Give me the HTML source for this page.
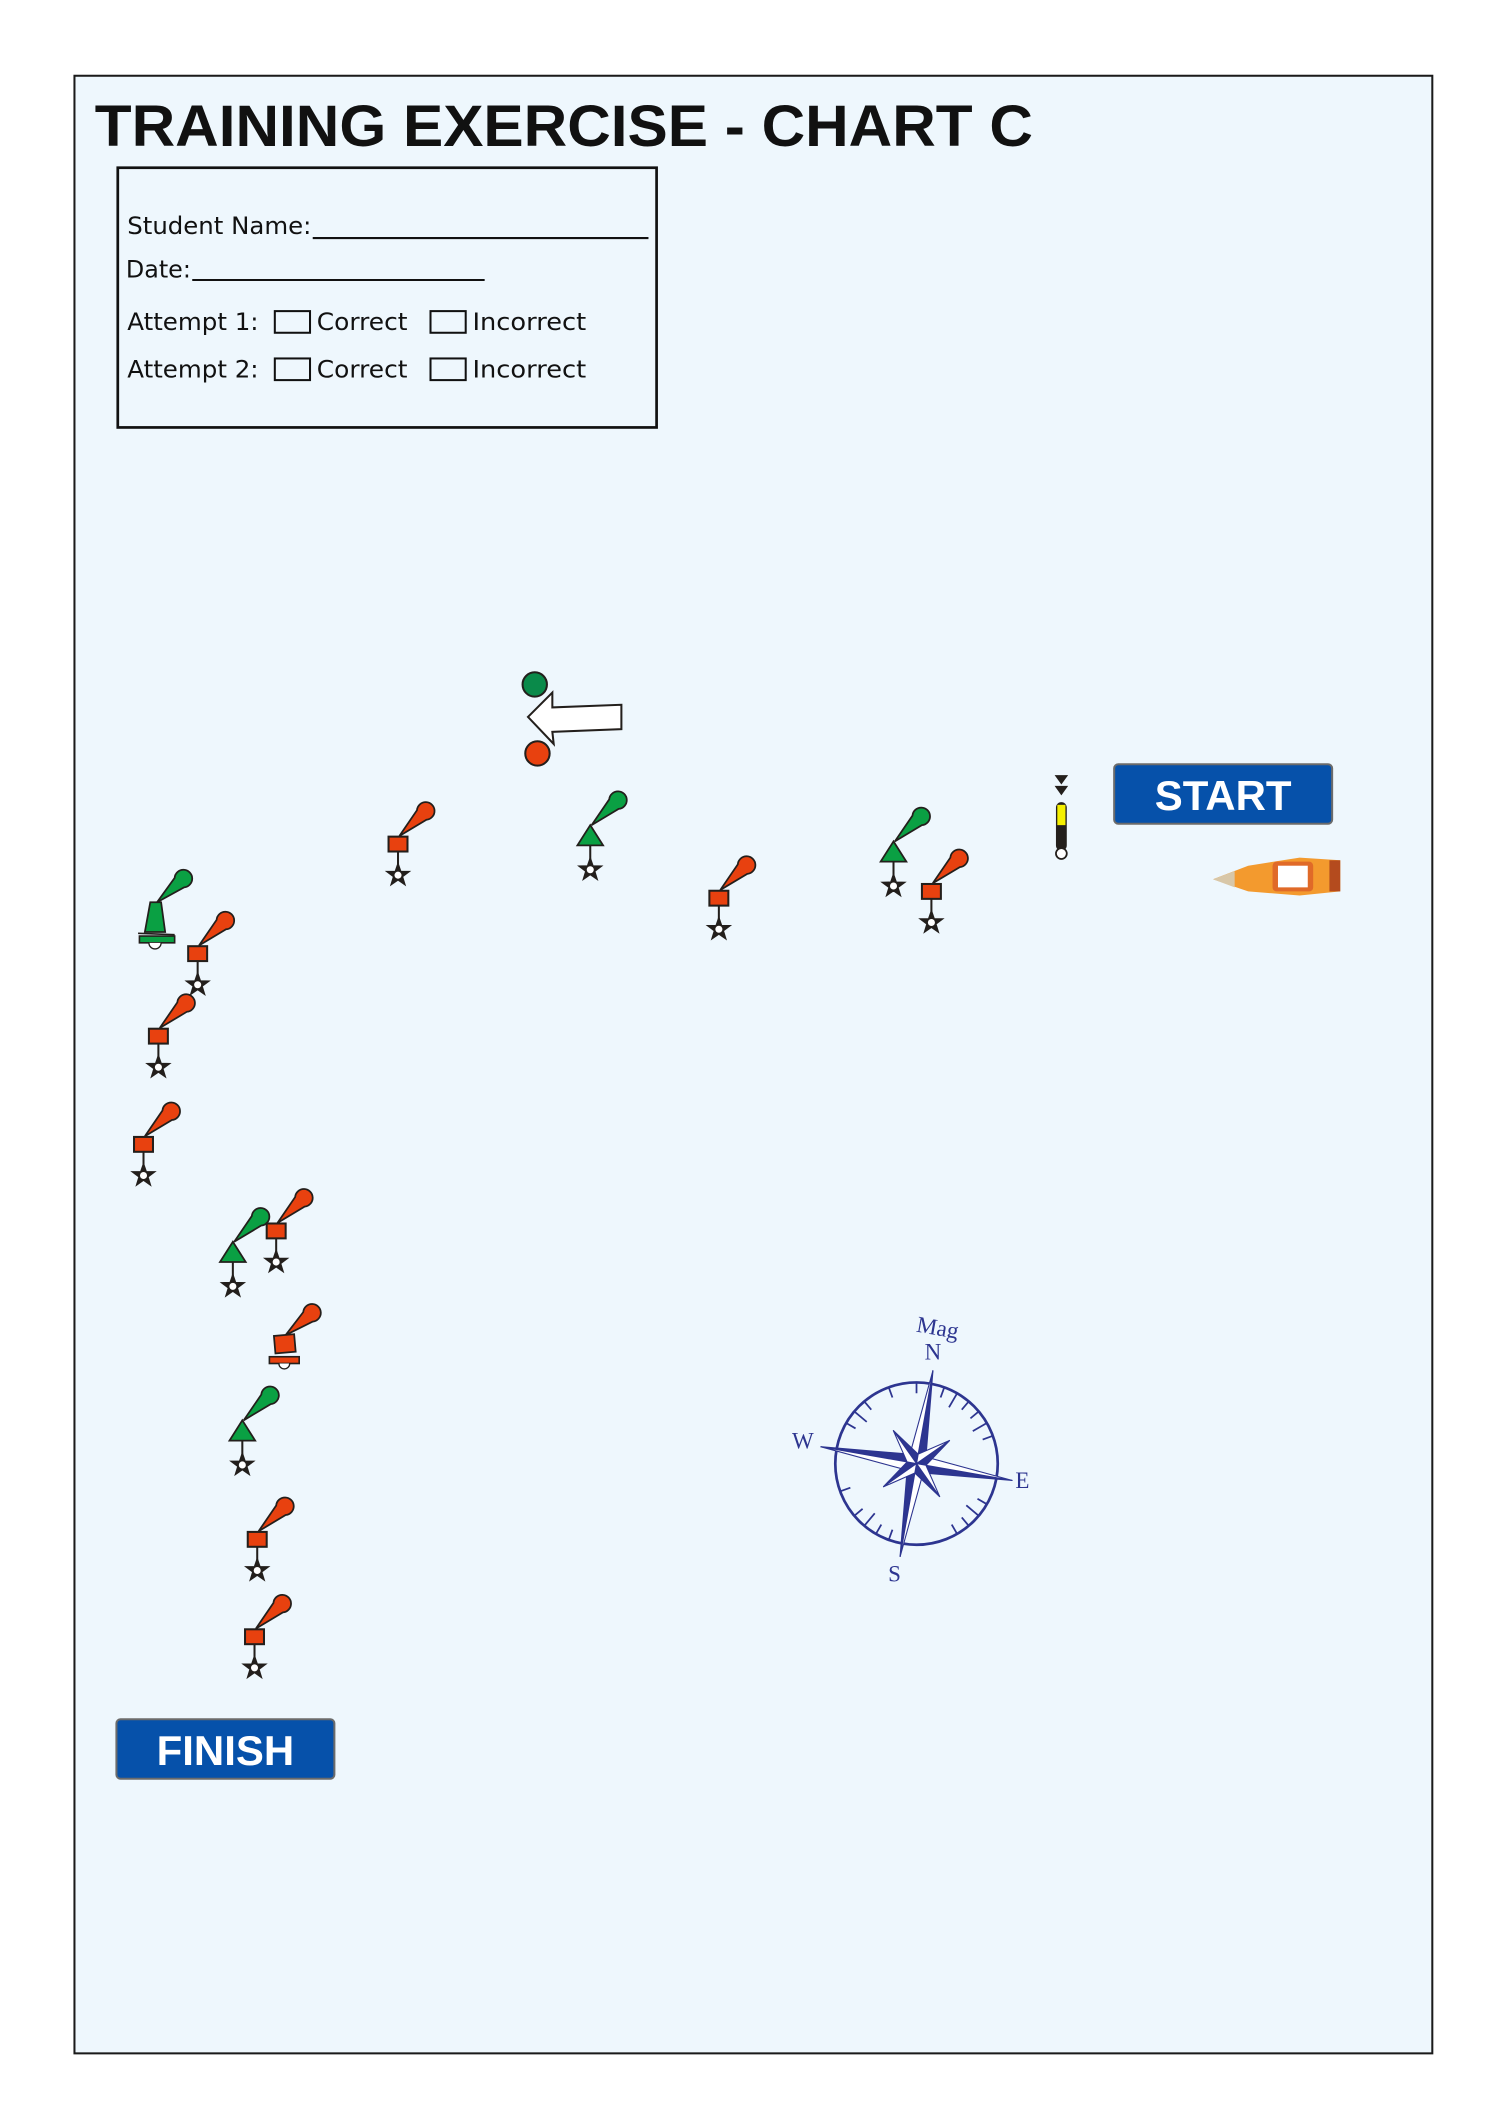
<!DOCTYPE html>
<html><head><meta charset="utf-8"><style>
html,body{margin:0;padding:0;background:#fff;}
svg{display:block}
</style></head><body>
<svg width="1500" height="2121" viewBox="0 0 1108 1568" preserveAspectRatio="none" xmlns="http://www.w3.org/2000/svg">
<defs>
<g id="star"><path d="M0,-9 L2.1,-2.9 8.6,-2.8 3.4,1.1 5.3,7.3 0,3.6 -5.3,7.3 -3.4,1.1 -8.6,-2.8 -2.1,-2.9Z" fill="#231f1c" stroke="#231f1c" stroke-width="0.8"/><circle cx="0" cy="0" r="2.6" fill="#fff"/></g>
<g id="red">
<path d="M1,-6 L14,-25 A6.5,6.5 0 1 1 21,-18 Z" fill="#e8410f" stroke="#231f1c" stroke-width="1.3"/>
<line x1="0" y1="5" x2="0" y2="16" stroke="#231f1c" stroke-width="1.5"/>
<rect x="-7" y="-5.5" width="14" height="11" fill="#e8410f" stroke="#231f1c" stroke-width="1.5"/>
<use href="#star" y="23"/>
</g>
<g id="green">
<path d="M1,-10 L14,-29 A6.5,6.5 0 1 1 21,-22 Z" fill="#0aa043" stroke="#231f1c" stroke-width="1.3"/>
<line x1="0" y1="5" x2="0" y2="16" stroke="#231f1c" stroke-width="1.5"/>
<path d="M0,-10 L9.5,5 L-9.5,5Z" fill="#0aa043" stroke="#231f1c" stroke-width="1.3"/>
<use href="#star" y="23"/>
</g>
</defs>
<rect x="0" y="0" width="1108" height="1568" fill="#fff"/>
<rect x="55" y="56" width="1003" height="1462" fill="#eef7fd" stroke="#1a1a1a" stroke-width="1.5"/>
<text x="70" y="108" font-family="Liberation Sans, sans-serif" font-weight="bold" font-size="43" fill="#111" textLength="693" lengthAdjust="spacingAndGlyphs">TRAINING EXERCISE - CHART C</text>
<rect x="87" y="124" width="398" height="192" fill="none" stroke="#111" stroke-width="2"/>
<g font-family="DejaVu Sans, Liberation Sans, sans-serif" font-size="17.5" fill="#111">
<text x="94" y="173" textLength="136" lengthAdjust="spacingAndGlyphs">Student Name:</text>
<line x1="231" y1="176" x2="479" y2="176" stroke="#111" stroke-width="1.5"/>
<text x="93" y="205" textLength="48" lengthAdjust="spacingAndGlyphs">Date:</text>
<line x1="142" y1="207" x2="358" y2="207" stroke="#111" stroke-width="1.5"/>
<text x="94" y="244" textLength="97" lengthAdjust="spacingAndGlyphs">Attempt 1:</text>
<text x="94" y="279" textLength="97" lengthAdjust="spacingAndGlyphs">Attempt 2:</text>
<text x="234" y="244" textLength="67" lengthAdjust="spacingAndGlyphs">Correct</text>
<text x="234" y="279" textLength="67" lengthAdjust="spacingAndGlyphs">Correct</text>
<text x="349" y="244" textLength="84" lengthAdjust="spacingAndGlyphs">Incorrect</text>
<text x="349" y="279" textLength="84" lengthAdjust="spacingAndGlyphs">Incorrect</text>
</g>
<g fill="none" stroke="#111" stroke-width="1.5">
<rect x="203" y="230" width="26" height="16"/><rect x="318" y="230" width="26" height="16"/>
<rect x="203" y="265" width="26" height="16"/><rect x="318" y="265" width="26" height="16"/>
</g>
<!-- gate -->
<circle cx="395" cy="506" r="9" fill="#0a8a4a" stroke="#231f1c" stroke-width="1.5"/>
<circle cx="397" cy="557" r="9" fill="#e8410f" stroke="#231f1c" stroke-width="1.5"/>
<path d="M390,530 L408,512 L408,523 L459,521 L459,539 L408,541 L409,550 Z" fill="#fff" stroke="#231f1c" stroke-width="1.5"/>
<!-- buoys -->
<use href="#red" x="294" y="624"/>
<use href="#green" x="436" y="620"/>
<use href="#red" x="531" y="664"/>
<use href="#green" x="660" y="632"/>
<use href="#red" x="688" y="659"/>
<use href="#red" x="146" y="705"/>
<use href="#red" x="117" y="766"/>
<use href="#red" x="106" y="846"/>
<use href="#green" x="172" y="928"/>
<use href="#red" x="204" y="910"/>
<use href="#green" x="179" y="1060"/>
<use href="#red" x="190" y="1138"/>
<use href="#red" x="188" y="1210"/>
<!-- green bell buoy -->
<g transform="translate(115,680)">
<path d="M1,-13 L14,-31 A6.5,6.5 0 1 1 21,-24 Z" fill="#0aa043" stroke="#231f1c" stroke-width="1.3"/>
<path d="M-4,-13 L4,-13 L7,9 L-8,9Z" fill="#0aa043" stroke="#231f1c" stroke-width="1.3"/>
<rect x="-12" y="12" width="26" height="5" fill="#0aa043" stroke="#231f1c" stroke-width="1.2"/>
<line x1="-13" y1="10" x2="14" y2="11" stroke="#231f1c" stroke-width="1.2"/>
<path d="M-5,17 A4,4 0 0 0 4,17" fill="#fff" stroke="#231f1c" stroke-width="1"/>
</g>
<!-- red bell buoy -->
<g transform="translate(210,995)">
<path d="M1,-8 L14,-25 A6.5,6.5 0 1 1 21,-18 Z" fill="#e8410f" stroke="#231f1c" stroke-width="1.3"/>
<rect x="-7" y="-8" width="15" height="13" fill="#e8410f" stroke="#231f1c" stroke-width="1.3" transform="rotate(-5)"/>
<rect x="-11" y="8" width="22" height="5" fill="#e8410f" stroke="#231f1c" stroke-width="1.2"/>
<path d="M-4,13 A4,4 0 0 0 4,13" fill="#fff" stroke="#231f1c" stroke-width="1"/>
</g>
<!-- cardinal -->
<g transform="translate(784,0)">
<path d="M-5,573 L5,573 L0,580Z M-5,581 L5,581 L0,588Z" fill="#231f1c"/>
<rect x="-4" y="593" width="8" height="36" rx="4" fill="#231f1c"/>
<rect x="-3" y="595" width="6" height="15" fill="#f5f000"/>
<circle cx="0" cy="631" r="4" fill="#fff" stroke="#231f1c" stroke-width="1.3"/>
</g>
<!-- start/finish -->
<rect x="823" y="565" width="161" height="44" rx="3" fill="#0651aa" stroke="#6b6b6b" stroke-width="1.5"/>
<text x="903.5" y="599" text-anchor="middle" font-family="Liberation Sans, sans-serif" font-weight="bold" font-size="31" fill="#fff">START</text>
<rect x="86" y="1271" width="161" height="44" rx="3" fill="#0651aa" stroke="#6b6b6b" stroke-width="1.5"/>
<text x="166.5" y="1305" text-anchor="middle" font-family="Liberation Sans, sans-serif" font-weight="bold" font-size="31" fill="#fff">FINISH</text>
<!-- boat -->
<path d="M896,650 L922,640 L960,634 L990,636 L990,659 L960,662 L922,659Z" fill="#f39a2e"/>
<path d="M896,650 L912,644 L912,656Z" fill="#d8c7a8"/>
<rect x="940" y="637" width="30" height="22" rx="3" fill="#e06a28"/>
<rect x="944" y="640" width="22" height="16" fill="#fff"/>
<rect x="982" y="636" width="8" height="23" fill="#b44b1e"/>
<!-- compass -->
<g transform="translate(677,1082)" stroke="#2d3590" fill="#2d3590">
<circle r="60" fill="none" stroke-width="2"/>
<g stroke-width="1.3">
<line x1="0" y1="-60" x2="0" y2="-52" transform="rotate(0)"/>
<line x1="0" y1="-60" x2="0" y2="-52" transform="rotate(10)"/>
<line x1="0" y1="-60" x2="0" y2="-52" transform="rotate(20)"/>
<line x1="0" y1="-60" x2="0" y2="-48" transform="rotate(30)"/>
<line x1="0" y1="-60" x2="0" y2="-52" transform="rotate(40)"/>
<line x1="0" y1="-60" x2="0" y2="-52" transform="rotate(50)"/>
<line x1="0" y1="-60" x2="0" y2="-48" transform="rotate(60)"/>
<line x1="0" y1="-60" x2="0" y2="-52" transform="rotate(70)"/>
<line x1="0" y1="-60" x2="0" y2="-52" transform="rotate(120)"/>
<line x1="0" y1="-60" x2="0" y2="-48" transform="rotate(130)"/>
<line x1="0" y1="-60" x2="0" y2="-52" transform="rotate(140)"/>
<line x1="0" y1="-60" x2="0" y2="-52" transform="rotate(150)"/>
<line x1="0" y1="-60" x2="0" y2="-52" transform="rotate(200)"/>
<line x1="0" y1="-60" x2="0" y2="-52" transform="rotate(210)"/>
<line x1="0" y1="-60" x2="0" y2="-48" transform="rotate(220)"/>
<line x1="0" y1="-60" x2="0" y2="-52" transform="rotate(230)"/>
<line x1="0" y1="-60" x2="0" y2="-52" transform="rotate(250)"/>
<line x1="0" y1="-60" x2="0" y2="-52" transform="rotate(300)"/>
<line x1="0" y1="-60" x2="0" y2="-48" transform="rotate(310)"/>
<line x1="0" y1="-60" x2="0" y2="-52" transform="rotate(320)"/>
<line x1="0" y1="-60" x2="0" y2="-52" transform="rotate(340)"/>
</g>
<g transform="rotate(10)">
<path d="M0,-70 L6,-6 L0,0 Z M0,70 L-6,6 L0,0Z M-72,0 L-6,-6 L0,0Z M72,0 L6,6 L0,0Z" stroke-width="0.8"/>
<path d="M0,-70 L-6,-6 L0,0Z M0,70 L6,6 L0,0Z M-72,0 L-6,6 L0,0Z M72,0 L6,-6 L0,0Z" fill="#fff" stroke-width="0.8"/>
<g transform="rotate(45)">
<path d="M0,-30 L5,-5 L0,0Z M0,30 L-5,5 L0,0Z M-30,0 L-5,-5 L0,0Z M30,0 L5,5 L0,0Z" stroke-width="0.8"/>
<path d="M0,-30 L-5,-5 L0,0Z M0,30 L5,5 L0,0Z M-30,0 L-5,5 L0,0Z M30,0 L5,-5 L0,0Z" fill="#fff" stroke-width="0.8"/>
</g>
</g>
</g>
<g font-family="Liberation Serif, serif" font-size="17" fill="#2d3590">
<text x="677" y="987" transform="rotate(10 692 982)">Mag</text>
<text x="683" y="1005">N</text>
<text x="585" y="1071">W</text>
<text x="750" y="1100">E</text>
<text x="656" y="1169">S</text>
</g>
</svg>
</body></html>
